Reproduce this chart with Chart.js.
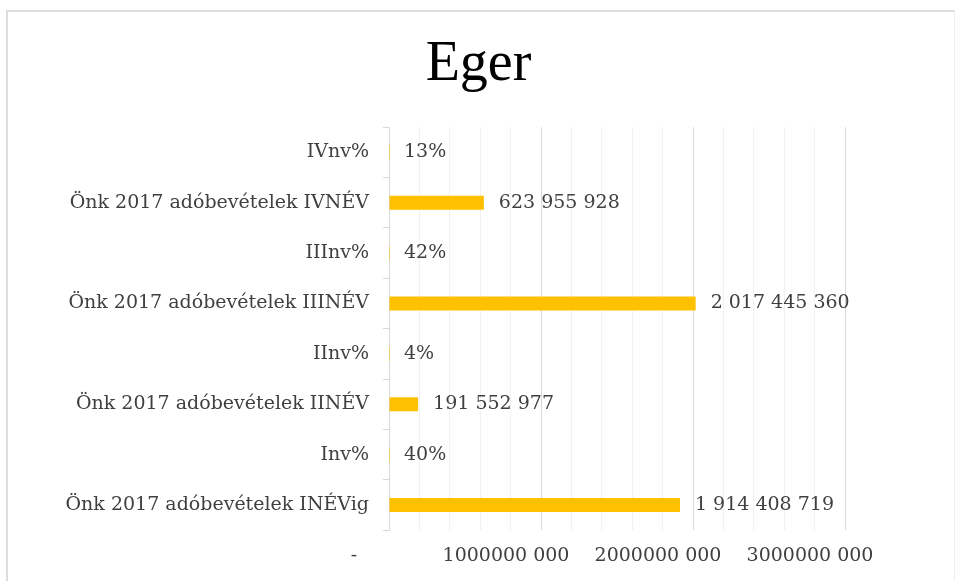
<!DOCTYPE html>
<html>
<head>
<meta charset="utf-8">
<script src="https://cdn.jsdelivr.net/npm/chart.js@4"></script>
<style>
  body { margin: 0; background: #fff; }
  #frame {
    position: absolute; left: 6px; top: 10px; width: 946px; height: 571px;
    border-top: 2px solid #dedede; border-left: 2px solid #dedede; border-right: 1px solid #f0f0f0;
  }
  #wrap { position: absolute; left: 0; top: 0; width: 957px; height: 581px; }
</style>
</head>
<body>
<div id="frame"></div>
<div id="wrap"><canvas id="chart" width="957" height="581"></canvas></div>
<script>
const categories = [
  "IVnv%",
  "Önk 2017 adóbevételek IVNÉV",
  "IIInv%",
  "Önk 2017 adóbevételek IIINÉV",
  "IInv%",
  "Önk 2017 adóbevételek IINÉV",
  "Inv%",
  "Önk 2017 adóbevételek INÉVig",
];
const values = [0.13, 623955928, 0.42, 2017445360, 0.04, 191552977, 0.40, 1914408719];
const xTickLabels = ["-", "1000000 000", "2000000 000", "3000000 000"];

const serif = "'DejaVu Serif', serif";
const textColor = "#404040";

// 623955928 -> "623 955 928", 0.13 -> "13%"
const formatValue = (v) => {
  if (v < 1) return Math.round(v * 100) + "%";
  return String(v).replace(/\B(?=(\d{3})+(?!\d))/g, " ");
};

const valueLabels = {
  id: "valueLabels",
  afterDatasetsDraw(chart) {
    const ctx = chart.ctx;
    const meta = chart.getDatasetMeta(0);
    ctx.save();
    ctx.font = "19px " + serif;
    ctx.fillStyle = textColor;
    ctx.textBaseline = "middle";
    ctx.textAlign = "left";
    meta.data.forEach((bar, i) => {
      ctx.fillText(formatValue(values[i]), bar.x + 15, bar.y);
    });
    ctx.restore();
  },
};

const ctx = document.getElementById("chart").getContext("2d");
new Chart(ctx, {
  type: "bar",
  data: {
    labels: categories,
    datasets: [
      {
        data: values,
        backgroundColor: "#FFC000",
        categoryPercentage: 1,
        barPercentage: 0.28,
      },
    ],
  },
  options: {
    indexAxis: "y",
    responsive: false,
    animation: false,
    layout: { padding: { left: 0, right: 0, bottom: 0 } },
    plugins: {
      legend: { display: false },
      tooltip: { enabled: false },
      title: {
        display: true,
        text: "Eger",
        color: "#000",
        font: { family: "'Liberation Serif', serif", size: 56, weight: "normal" },
        padding: { top: 32, bottom: 28 },
      },
    },
    scales: {
      x: {
        min: 0,
        max: 3000000000,
        ticks: {
          stepSize: 200000000,
          autoSkip: false,
          maxRotation: 0,
          labelOffset: -35,
          padding: 14,
          color: textColor,
          font: { family: serif, size: 19 },
          callback: (v) => {
            const k = v / 1e9;
            return Math.abs(k - Math.round(k)) < 1e-6 ? xTickLabels[Math.round(k)] : "";
          },
        },
        grid: {
          drawTicks: false,
          color: (c) => {
            const k = c.tick.value / 1e9;
            return Math.abs(k - Math.round(k)) < 1e-6 ? "#d9d9d9" : "#f1f1f1";
          },
        },
        border: { display: false },
      },
      y: {
        afterFit: (scale) => { scale.width = 389; },
        ticks: {
          padding: 14,
          color: textColor,
          font: { family: serif, size: 19 },
        },
        grid: { drawOnChartArea: false, tickLength: 6, color: "#d9d9d9" },
        border: { color: "#d9d9d9" },
      },
      // empty right margin so the title stays centred on the whole chart
      yRight: {
        position: "right",
        afterFit: (scale) => { scale.width = 112; },
        ticks: { display: false },
        grid: { display: false },
        border: { display: false },
      },
    },
  },
  plugins: [valueLabels],
});
</script>
</body>
</html>
